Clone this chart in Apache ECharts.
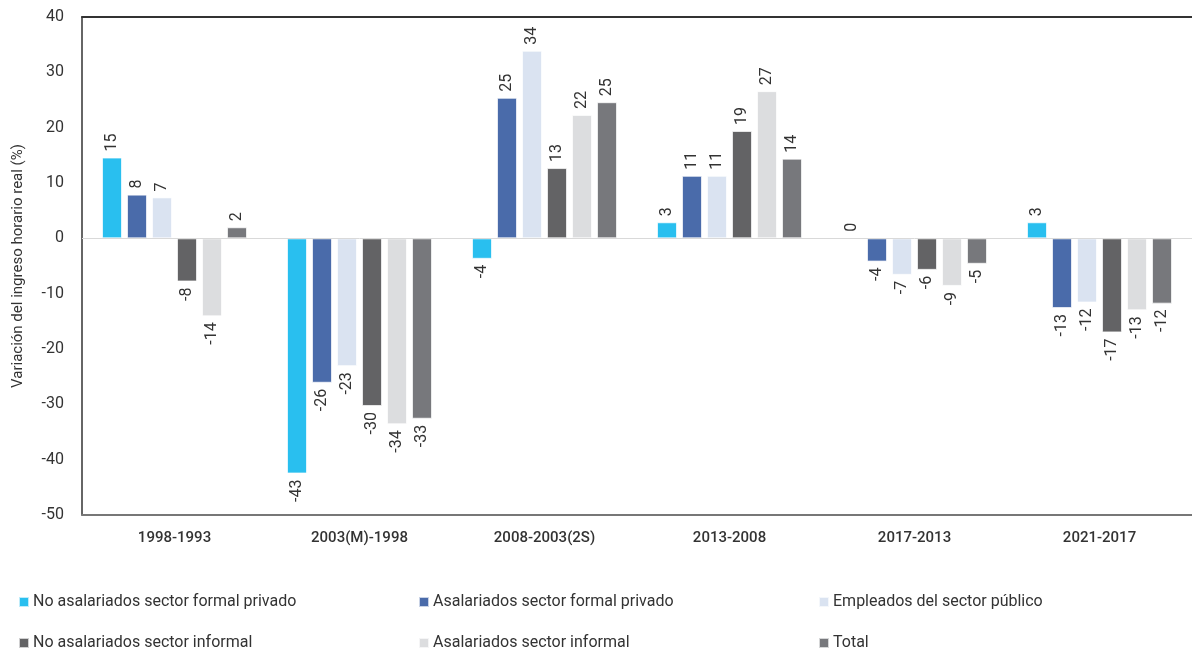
<!DOCTYPE html>
<html><head><meta charset="utf-8">
<script src="https://cdn.jsdelivr.net/npm/echarts@6/dist/echarts.min.js"></script>
<style>html,body{margin:0;padding:0;background:#fff}#c{width:1192px;height:649px}</style>
</head><body><div id="c"></div>
<script>
const categories = ['1998-1993','2003(M)-1998','2008-2003(2S)','2013-2008','2017-2013','2021-2017'];
const seriesNames = ['No asalariados sector formal privado','Asalariados sector formal privado','Empleados del sector público','No asalariados sector informal','Asalariados sector informal','Total'];
const noAsalFormal = [14.6, -42.5, -3.7, 2.9, 0, 2.9];
const asalFormal = [7.9, -26.1, 25.4, 11.3, -4.2, -12.6];
const empleadosPublico = [7.4, -23.1, 33.9, 11.3, -6.6, -11.6];
const noAsalInformal = [-7.8, -30.3, 12.7, 19.4, -5.7, -17.0];
const asalInformal = [-14.1, -33.6, 22.3, 26.6, -8.6, -13.0];
const total = [2.0, -32.6, 24.6, 14.4, -4.6, -11.8];
const yTicks = [-50, -40, -30, -20, -10, 0, 10, 20, 30, 40];
const colors = ['#29BFEF','#4A6BAA','#DAE3F1','#636365','#DCDDDF','#77787C'];
const values = [noAsalFormal, asalFormal, empleadosPublico, noAsalInformal, asalInformal, total];
const FONT = 'Roboto';

const series = values.map((arr, i) => ({
  name: seriesNames[i],
  type: 'bar',
  barWidth: 20,
  barGap: '25%',
  itemStyle: { color: colors[i], borderColor: 'rgba(255,255,255,0.7)', borderWidth: 1 },
  data: arr.map(v => ({
    value: v,
    label: {
      show: true, rotate: 90,
      position: v >= 0 ? 'top' : 'bottom',
      align: v >= 0 ? 'left' : 'right',
      verticalAlign: 'middle',
      distance: 6,
      formatter: p => Number(p.value).toFixed(0),
      fontFamily: FONT, fontSize: 16, color: '#333'
    }
  })),
  markLine: i === 0 ? {
    silent: true, symbol: 'none', label: { show: false },
    lineStyle: { color: '#d9d9d9', type: 'solid', width: 1 },
    data: [{ yAxis: 0 }]
  } : undefined,
  z: 3
}));

const legendPos = [[18,594],[418,594],[818,594],[18,635],[418,635],[818,635]];
const legends = seriesNames.map((n, i) => ({
  data: [n], left: legendPos[i][0], top: legendPos[i][1], padding: 0,
  icon: 'rect', itemWidth: 10, itemHeight: 10, itemGap: 0,
  textStyle: { fontFamily: FONT, fontSize: 16, color: '#333', padding: [0,0,0,-1] },
  selectedMode: false
}));

const chart = echarts.init(document.getElementById('c'));
chart.setOption({
  animation: false,
  color: colors,
  grid: { left: 82, right: 0, top: 17, bottom: 134, containLabel: false },
  legend: legends,
  xAxis: [{
    type: 'category', data: categories, position: 'bottom',
    axisLine: { onZero: false, lineStyle: { color: '#777', width: 2 } },
    axisTick: { show: false },
    axisLabel: { fontFamily: FONT, fontSize: 15, fontWeight: 500, color: '#333', margin: 16 }
  }, {
    type: 'category', data: categories, position: 'top',
    axisLine: { show: true, onZero: false, lineStyle: { color: '#333', width: 2 } },
    axisTick: { show: false }, axisLabel: { show: false }
  }],
  yAxis: {
    type: 'value', min: -50, max: 40, interval: 10,
    name: 'Variación del ingreso horario real (%)',
    nameLocation: 'middle', nameGap: 56, nameRotate: 90,
    nameTextStyle: { fontFamily: FONT, fontSize: 15, color: '#333' },
    axisLine: { show: true, lineStyle: { color: '#333', width: 1.5 } },
    axisTick: { show: false },
    splitLine: { show: false },
    axisLabel: { fontFamily: FONT, fontSize: 16, color: '#333', margin: 18,
      formatter: v => yTicks.includes(v) ? String(v) : '' }
  },
  series: series
});
</script></body></html>
